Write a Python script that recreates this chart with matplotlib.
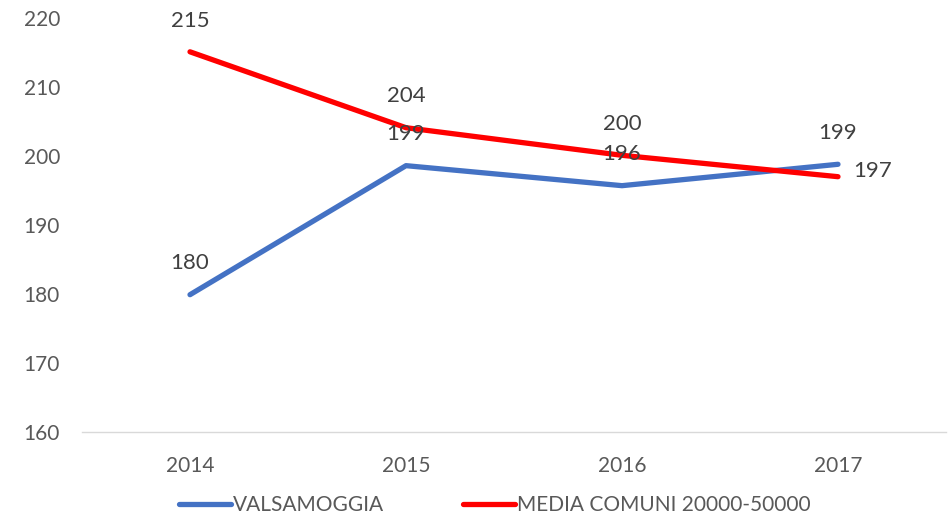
import matplotlib
matplotlib.use("Agg")
import matplotlib.pyplot as plt

years = ["2014", "2015", "2016", "2017"]
valsamoggia = [179.9, 198.6, 195.7, 198.8]
media = [215.1, 204.1, 200.1, 197.0]
val_labels = ["180", "199", "196", "199"]
media_labels = ["215", "204", "200", "197"]
yticks = [160, 170, 180, 190, 200, 210, 220]

plt.rcParams['font.family'] = ['Lato', 'DejaVu Sans']
W, H = 953, 519
fig = plt.figure(figsize=(W/100, H/100), dpi=100)
ax = fig.add_axes([82/W, 1-432/H, (946-82)/W, (432-18)/H])

x = list(range(len(years)))
blue = '#4472C4'
red = '#FF0000'
ax.plot(x, valsamoggia, color=blue, lw=3.8, solid_capstyle='round', label='VALSAMOGGIA', zorder=3)
ax.plot(x, media, color=red, lw=3.8, solid_capstyle='round', label='MEDIA COMUNI 20000-50000', zorder=3)

txtc = '#404040'
for i, (v, l) in enumerate(zip(valsamoggia, val_labels)):
    ax.annotate(l, (i, v), xytext=(0, 22.5), textcoords='offset points', ha='center', va='center',
                fontsize=16, color=txtc, zorder=4)
for i, (v, l) in enumerate(zip(media, media_labels)):
    if i == 3:
        ax.annotate(l, (i, v), xytext=(25, 4), textcoords='offset points', ha='center', va='center',
                    fontsize=16, color=txtc, zorder=4)
    else:
        ax.annotate(l, (i, v), xytext=(0, 22.5), textcoords='offset points', ha='center', va='center',
                    fontsize=16, color=txtc, zorder=4)

ax.set_xlim(-0.5, 3.5)
ax.set_ylim(160, 220)
ax.set_yticks(yticks)
ax.set_xticks(x)
ax.set_xticklabels(years)
ax.tick_params(axis='both', length=0, labelsize=15, colors='#595959')
ax.tick_params(axis='x', pad=17)
ax.tick_params(axis='y', pad=42)
for s in ['top', 'right', 'left']:
    ax.spines[s].set_visible(False)
ax.spines['bottom'].set_color('#D9D9D9')
ax.spines['bottom'].set_linewidth(1)
for lbl in ax.get_yticklabels():
    lbl.set_horizontalalignment('left')

leg = fig.legend(loc='center', bbox_to_anchor=(495/W, 1-505/H), ncol=2, frameon=False,
                 fontsize=15, handlelength=2.5, handletextpad=0.1, columnspacing=3.8)
for t in leg.get_texts():
    t.set_color('#595959')

fig.savefig('out.png', dpi=100)
